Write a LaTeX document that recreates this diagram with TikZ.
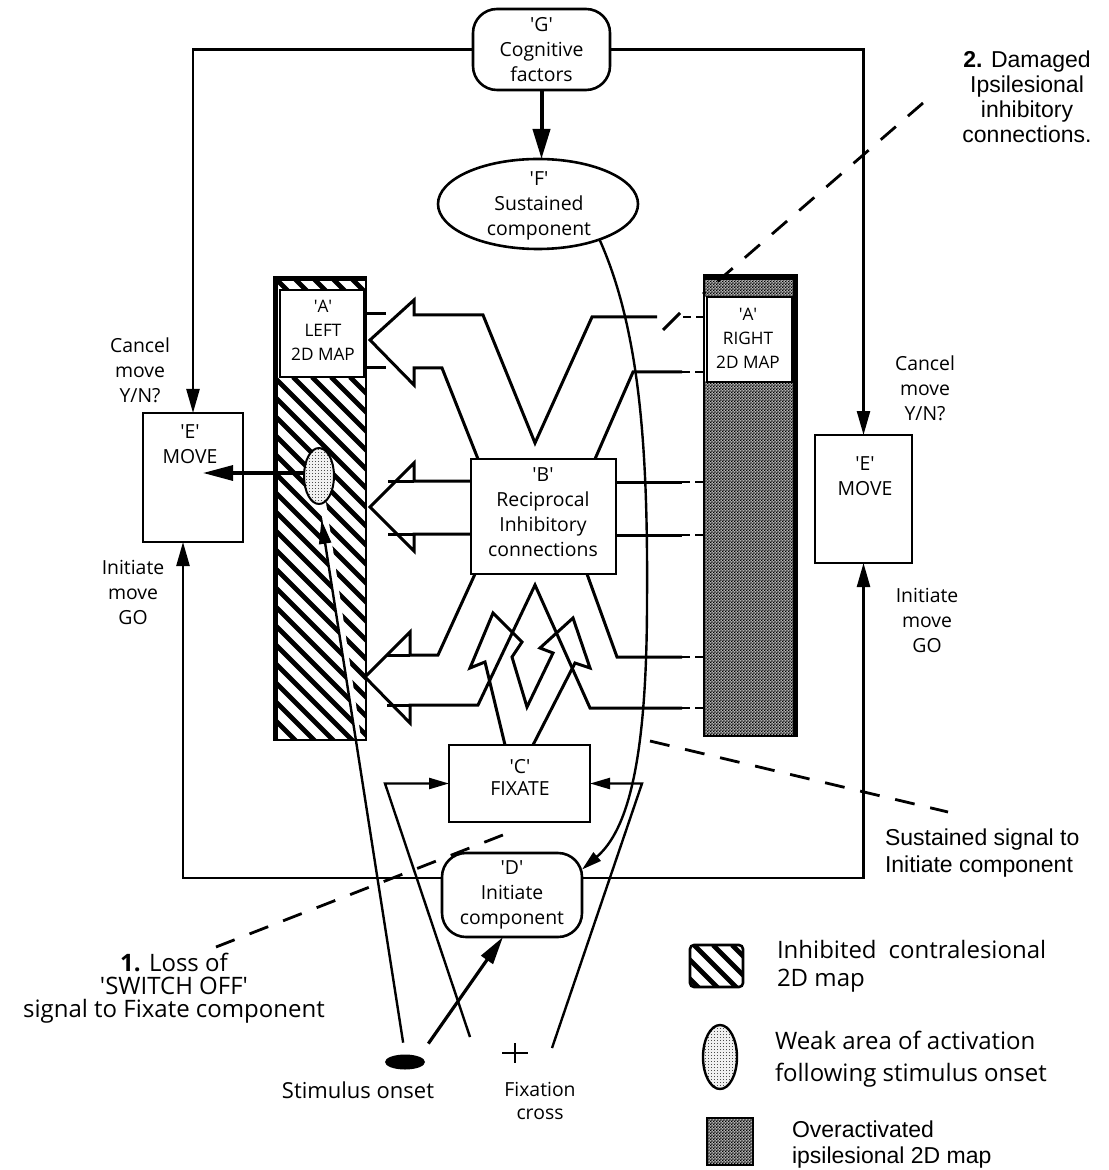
\documentclass[tikz,border=0pt]{standalone}
\usepackage{fontspec}
\setmainfont{Open Sans}
\newfontfamily\helv{Liberation Sans}
\usetikzlibrary{arrows.meta,shapes.geometric,patterns}
\newcommand{\sqt}{\textquotesingle}

% fine dark checker for the overactivated map
\pgfdeclarepatternformonly{finechecker}{\pgfpointorigin}{\pgfqpoint{1.6pt}{1.6pt}}{\pgfqpoint{1.6pt}{1.6pt}}{%
  \pgfpathrectangle{\pgfpointorigin}{\pgfqpoint{0.8pt}{0.8pt}}%
  \pgfpathrectangle{\pgfqpoint{0.8pt}{0.8pt}}{\pgfqpoint{0.8pt}{0.8pt}}%
  \pgfusepath{fill}}
% sparse stipple for the weak activation spot
\pgfdeclarepatternformonly{finedots}{\pgfpointorigin}{\pgfqpoint{1.5pt}{1.5pt}}{\pgfqpoint{1.5pt}{1.5pt}}{%
  \pgfpathrectangle{\pgfpointorigin}{\pgfqpoint{0.55pt}{0.55pt}}%
  \pgfusepath{fill}}

\begin{document}
\begin{tikzpicture}[x=0.5pt, y=-0.5pt,
  every node/.style={inner sep=0pt, outer sep=0pt},
  lbl/.style={font=\fontsize{9.7}{12.5}\selectfont, align=center},
  maplbl/.style={font=\fontsize{8.6}{12}\selectfont, align=center},
  big/.style={font=\fontsize{12}{14}\selectfont, align=left},
  hv/.style={font=\helv\fontsize{11.5}{12.5}\selectfont},
  box/.style={draw, line width=1.3pt, rectangle},
  rbox/.style={box, rounded corners=12pt},
  wire/.style={line width=1.2pt},
  arr/.style={wire, -{Triangle[length=12pt,width=6.5pt]}},
  arrs/.style={wire, -{Triangle[length=10pt,width=5.5pt]}},
  hollow/.style={line width=1.5pt, line join=miter, miter limit=20},
  tail/.style={line width=1.4pt, dash pattern=on 4pt off 2.5pt},
  note/.style={line width=1.4pt, dash pattern=on 10pt off 8pt},
  hatch/.style={line width=2.4pt},
  dense/.style={preaction={fill=black!30}, pattern=finechecker},
  light/.style={preaction={fill=black!6}, pattern=finedots, pattern color=black!70},
]
\path[use as bounding box] (0,0) rectangle (1108,1170);

% stimulus spot and activation centre
\node[ellipse, fill=black, minimum width=20pt, minimum height=7.5pt] (stim) at (405,1062) {};
\coordinate (blobc) at (319,476);

% ---------- left 2D map (inhibited) ----------
\begin{scope}
  \clip (274,277) rectangle (366,290);
  \foreach \k in {-2,...,5} \draw[hatch] ({274+\k*19},277) -- ++(40,40);
\end{scope}
\begin{scope}
  \clip (274,377) rectangle (366,740);
  \foreach \k in {-21,...,5} \draw[hatch] ({274+\k*19},377) -- ++(420,420);
  \draw[white, line width=3pt] (stim.north) -- (blobc);
\end{scope}
\draw[line width=1.2pt] (274,277) rectangle (366,740);
\draw[line width=2.4pt] (275.5,277) -- (275.5,740);
\draw[line width=2.4pt] (274,278.5) -- (366,278.5);
\node[box, line width=1pt, fill=white, minimum width=42pt, minimum height=43.5pt] (mapL) at (322,333.5) {};
\node[maplbl] (mapLt) at (323,330) {\sqt A\sqt\\LEFT\\2D MAP};
\node[ellipse, draw, line width=1pt, minimum width=15pt, minimum height=28pt, light] (blob) at (blobc) {};

% ---------- right 2D map (overactivated) ----------
\path[dense] (704,281) rectangle (797,297);
\path[dense] (704,382) rectangle (797,736);
\draw[line width=1.2pt] (704,275) rectangle (797,736);
\draw[line width=2.4pt] (704,277.5) -- (797,277.5);
\draw[line width=2.4pt] (795,275) -- (795,736);
\node[box, line width=1pt, fill=white, minimum width=42.5pt, minimum height=42.5pt] (mapR) at (749.5,339.5) {};
\node[maplbl] (mapRt) at (748,338) {\sqt A\sqt\\RIGHT\\2D MAP};

% ---------- components ----------
\node[rbox, lbl, minimum width=68.5pt, minimum height=40.5pt] (G) at (541.5,49.5) {\sqt G\sqt\\Cognitive\\factors};
\node[ellipse, draw, line width=1.3pt, minimum width=100pt, minimum height=45pt] (F) at (538,204) {};
\node[lbl] (Ft) at (539,206) {\sqt F\sqt\\Sustained\\component};
\node[box, minimum width=50pt, minimum height=64.5pt] (EL) at (193,477.5) {};
\node[lbl] (ELt) at (190,444) {\sqt E\sqt\\MOVE};
\node[box, minimum width=48.5pt, minimum height=64pt] (ER) at (863.5,499) {};
\node[lbl] (ERt) at (865,476) {\sqt E\sqt\\MOVE};
\node[box, minimum width=72.5pt, minimum height=57.5pt] (B) at (543.5,516.5) {};
\node[lbl] (Bt) at (543,512) {\sqt B\sqt\\Reciprocal\\Inhibitory\\connections};
\node[box, minimum width=70.5pt, minimum height=38.5pt] (C) at (519.5,783.5) {};
\node[lbl, font=\fontsize{9.7}{11}\selectfont] (Ct) at (520,777) {\sqt C\sqt\\FIXATE};
\node[rbox, lbl, minimum width=70pt, minimum height=42pt] (D) at (512,895) {\sqt D\sqt\\Initiate\\component};

% ---------- hollow inhibitory arrows from B ----------
\draw[hollow] (478,459) -- (442,368) -- (414,368) -- (414,385) -- (370,340) -- (414,300) -- (414,315)
  -- (483,315) -- (535,443) -- (592,317) -- (657,317);
\draw[hollow] (680,313) -- (663,330);
\draw[hollow] (595,459) -- (633,372) -- (682,372);
\draw[hollow] (366,314) -- (386,314);
\draw[hollow] (364,368) -- (386,368);
\draw[tail] (683,317) -- (704,317);
\draw[tail] (682,372) -- (704,372);

\draw[hollow] (471,481) -- (414,481) -- (414,463) -- (370,507) -- (414,551) -- (414,534) -- (471,534);
\draw[hollow] (388,481) -- (414,481);
\draw[hollow] (388,534) -- (414,534);
\draw[hollow] (616,482) -- (682,482);
\draw[hollow] (616,535) -- (682,535);
\draw[tail] (682,482) -- (704,482);
\draw[tail] (682,535) -- (704,535);

\draw[hollow] (475,574) -- (438,655) -- (410,655) -- (410,632) -- (365,677) -- (410,723) -- (410,705)
  -- (478,705) -- (535,585) -- (590,708) -- (682,708);
\draw[hollow] (387,655) -- (410,655);
\draw[hollow] (387,705) -- (410,705);
\draw[hollow] (587,574) -- (617,657) -- (682,657);
\draw[tail] (682,657) -- (704,657);
\draw[tail] (682,708) -- (704,708);

% ---------- hollow arrows from C ----------
\draw[hollow] (505,745) -- (485,662) -- (470,668) -- (493,613) -- (522,642) -- (512,657) -- (527,707)
  -- (553,653) -- (540,648) -- (573,618) -- (590,668) -- (575,663) -- (533,745);

% ---------- connectors ----------
\draw[arr] (G.west) -| (EL.north);
\draw[arr] (G.east) -| (ER.north);
\draw[line width=2pt, -{Triangle[length=15pt,width=8.5pt]}] (G.south) -- (G.south |- F.north);
\draw[arr] ([yshift=8.5pt]D.west) -| ([xshift=-5pt]EL.south);
\draw[arr] ([yshift=8.5pt]D.east) -| (ER.south);
\coordinate (mvtip) at (203,473);
\draw[line width=1.6pt, -{Triangle[length=15pt,width=7.5pt]}] ([yshift=1.5pt]blob.west) -- (mvtip);
\draw[wire, -{Triangle[length=12pt,width=6pt]}, shorten <=6pt, shorten >=8pt] (stim.north) -- (blob.south);
\draw[line width=1.6pt, -{Triangle[length=14pt,width=7pt]}, shorten <=8pt] (stim.north east) -- ([xshift=-4.5pt]D.south);

\coordinate (fxL) at (470,1037);
\coordinate (fxR) at (552,1048);
\coordinate (cL) at (385,783.5);
\coordinate (cR) at (642,783.5);
\draw[arrs] (fxL) -- (cL) -- (C.west);
\draw[arrs] (fxR) -- (cR) -- (C.east);

\draw[arrs] (F.-30) .. controls (640,330) and (648,450) .. (647,600)
  .. controls (647,760) and (628,830) .. (D.20);

% fixation cross
\draw[line width=1.3pt] (502,1053) -- (528,1053) (515,1043) -- (515,1063);

% ---------- lesion annotations ----------
\draw[note] (216,947) -- (508,833);
\draw[note] (923,103) -- (703,294);
\draw[note] (650,741) -- (948,812);

% ---------- texts ----------
\node[lbl] (cancL) at (140,370) {Cancel\\move\\Y/N?};
\node[lbl] (cancR) at (925,388) {Cancel\\move\\Y/N?};
\node[lbl] (initL) at (133,592) {Initiate\\move\\GO};
\node[lbl] (initR) at (927,620) {Initiate\\move\\GO};
\node[hv, align=center] (dmg) at (1027,97) {\textbf{2.} Damaged\\Ipsilesional\\inhibitory\\connections.};
\node[hv, align=left, anchor=west, font=\helv\fontsize{11.5}{13.5}\selectfont] (sus) at (885,853.5) {Sustained signal to\\Initiate component};
\node[align=center, font=\fontsize{12}{11.5}\selectfont] (loss) at (174,988) {\textbf{1.} Loss of\\\sqt SWITCH OFF\sqt\\signal to Fixate component};
\node[font=\fontsize{11}{13}\selectfont] (stimt) at (358,1090) {Stimulus onset};
\node[lbl, font=\fontsize{9.7}{11.5}\selectfont] (fixt) at (540,1101) {Fixation\\cross};

% ---------- legend ----------
\begin{scope}
  \clip[rounded corners=2pt] (690,945) rectangle (743,987);
  \foreach \k in {-3,...,3} \draw[hatch] ({690+\k*19+4},945) -- ++(60,60);
\end{scope}
\draw[line width=1.3pt, rounded corners=2pt] (690,945) rectangle (743,987);
\node[ellipse, draw, line width=1.2pt, minimum width=17pt, minimum height=32pt, light] (lgblob) at (720,1057) {};
\path[dense] (707,1118) rectangle (753,1165);
\draw[line width=1pt] (707,1118) rectangle (753,1165);
\node[big, anchor=west] (lg1) at (777,966) {Inhibited\enspace contralesional\\2D map};
\node[big, anchor=west, font=\fontsize{12}{16}\selectfont] (lg2) at (775,1059) {Weak area of activation\\following stimulus onset};
\node[hv, align=left, anchor=west, font=\helv\fontsize{11.5}{13}\selectfont] (lg3) at (792,1145) {Overactivated\\ipsilesional 2D map};
\end{tikzpicture}
\end{document}
